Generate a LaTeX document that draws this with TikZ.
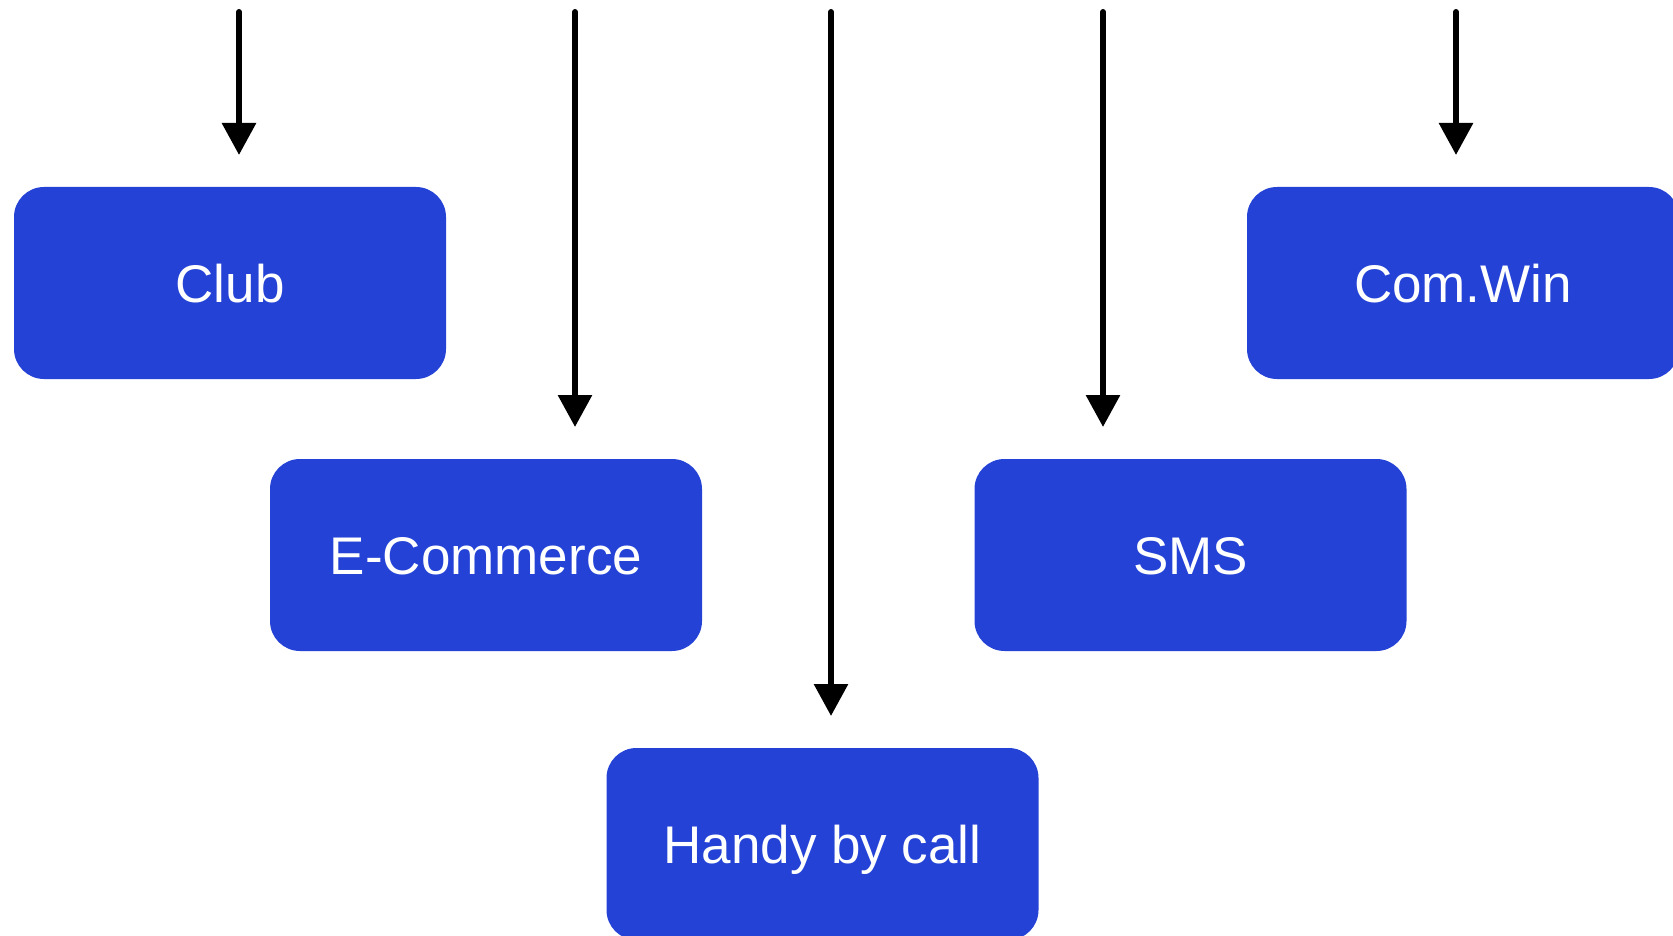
\documentclass[tikz,border=0pt]{standalone}
\usepackage{fontspec}
\setmainfont{Liberation Sans}
\usepackage{tikz}
\usetikzlibrary{arrows.meta}
\definecolor{boxblue}{RGB}{36,67,214}

\begin{document}
\begin{tikzpicture}[x=1pt, y=-1pt,
  channel/.style={fill=boxblue, text=white, rectangle, rounded corners=30pt, minimum width=432pt, minimum height=192pt, inner sep=0pt, text height=38pt, text depth=0pt, font=\fontsize{53}{60}\selectfont},
  feed/.style={line width=6pt, line cap=round, -{Triangle[width=33pt,length=32pt]}}]
\useasboundingbox (0,0) rectangle (1673,936);

\node[channel] (club) at (230,283) {Club};
\node[channel] (ecommerce) at (486,555) {E-Commerce};
\node[channel] (handy) at (822.5,844) {Handy by call};
\node[channel] (sms) at (1190.5,555) {SMS};
\node[channel] (comwin) at (1463,283) {Com.Win};

\coordinate (club in) at (239,12);
\coordinate (club tip) at (239,155);
\coordinate (ecommerce in) at (575,12);
\coordinate (ecommerce tip) at (575,427);
\coordinate (handy in) at (831,12);
\coordinate (handy tip) at (831,716);
\coordinate (sms in) at (1103,12);
\coordinate (sms tip) at (1103,427);
\coordinate (comwin in) at (1456,12);
\coordinate (comwin tip) at (1456,155);

\draw[feed] (club in) -- (club tip);
\draw[feed] (ecommerce in) -- (ecommerce tip);
\draw[feed] (handy in) -- (handy tip);
\draw[feed] (sms in) -- (sms tip);
\draw[feed] (comwin in) -- (comwin tip);
\end{tikzpicture}
\end{document}
